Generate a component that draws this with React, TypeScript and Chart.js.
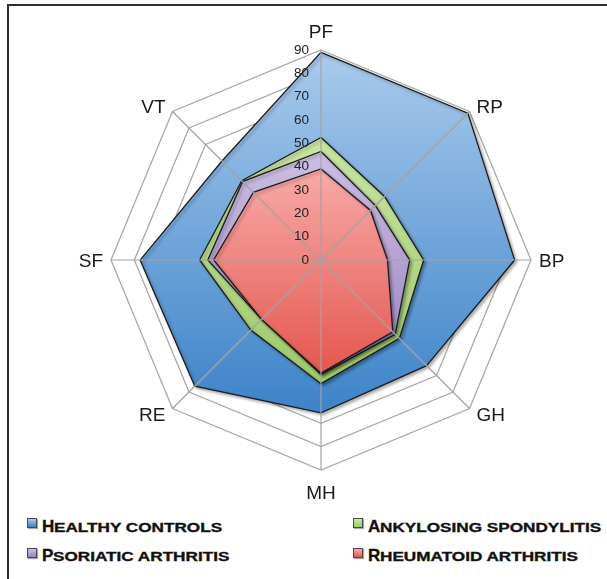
import React, { useEffect, useRef } from 'react';
import { Chart, registerables } from 'chart.js';

Chart.register(...registerables);

const axisLabels = ['PF', 'RP', 'BP', 'GH', 'MH', 'RE', 'SF', 'VT'];
const tickValues = [0, 10, 20, 30, 40, 50, 60, 70, 80, 90];
const healthyControls = [89, 89, 83, 64, 65.5, 76.5, 77.5, 60];
const ankylosingSpondylitis = [52.5, 38.5, 44, 47.5, 53, 42.5, 52, 48];
const psoriaticArthritis = [46.5, 33, 38, 45, 49, 36, 48.5, 47.5];
const rheumatoidArthritis = [39, 30, 28.5, 43.5, 48.5, 36, 46, 41];
const seriesNames = ['Healthy controls', 'Ankylosing spondylitis', 'Psoriatic arthritis', 'Rheumatoid arthritis'];

const FONT = '"Liberation Sans", Arial, sans-serif';

const palette = [
  { top: '#a9caec', bottom: '#3d83c9' },
  { top: '#c9e4a4', bottom: '#9dca66' },
  { top: '#cdbfe2', bottom: '#9882c5' },
  { top: '#f8aaa8', bottom: '#e4574f' },
];

function makeFill(chart: any, values: number[], top: string, bottom: string) {
  const scale = chart.scales && chart.scales.r;
  if (!scale || !chart.chartArea || !isFinite(scale.xCenter)) return top;
  let minY = Infinity;
  let maxY = -Infinity;
  values.forEach((v, i) => {
    const p = scale.getPointPositionForValue(i, v);
    minY = Math.min(minY, p.y);
    maxY = Math.max(maxY, p.y);
  });
  if (!isFinite(minY) || !isFinite(maxY) || maxY - minY < 1) return top;
  const g = chart.ctx.createLinearGradient(0, minY, 0, maxY);
  g.addColorStop(0, top);
  g.addColorStop(1, bottom);
  return g;
}

const overlayPlugin = {
  id: 'overlay',
  beforeDatasetsDraw(chart: any) {
    const ctx = chart.ctx;
    ctx.save();
    ctx.shadowColor = 'rgba(0,0,0,0.3)';
    ctx.shadowOffsetX = 2;
    ctx.shadowOffsetY = 2;
    ctx.shadowBlur = 3;
  },
  afterDatasetsDraw(chart: any) {
    const ctx = chart.ctx;
    ctx.restore();
    const s = chart.scales.r;
    ctx.save();
    ctx.strokeStyle = '#a3a3a3';
    ctx.lineWidth = 1.2;
    axisLabels.forEach((_, i) => {
      const p = s.getPointPosition(i, s.drawingArea);
      ctx.beginPath();
      ctx.moveTo(s.xCenter, s.yCenter);
      ctx.lineTo(p.x, p.y);
      ctx.stroke();
    });
    ctx.font = `13.5px ${FONT}`;
    ctx.fillStyle = '#222';
    ctx.textAlign = 'right';
    ctx.textBaseline = 'middle';
    tickValues.forEach((v) => {
      const d = s.getDistanceFromCenterForValue(v);
      ctx.fillText(String(v), s.xCenter - 12, s.yCenter - d);
    });
    ctx.font = `19px ${FONT}`;
    ctx.fillStyle = '#1a1a1a';
    ctx.textBaseline = 'alphabetic';
    axisLabels.forEach((lab, i) => {
      const p = s.getPointPosition(i, s.drawingArea);
      const dx = p.x - s.xCenter;
      const dy = p.y - s.yCenter;
      let align: CanvasTextAlign = 'center';
      let x = p.x;
      let y = p.y;
      if (Math.abs(dx) < 1) {
        y = dy < 0 ? p.y - 12 : p.y + 29;
      } else if (Math.abs(dy) < 1) {
        align = dx > 0 ? 'left' : 'right';
        x = p.x + (dx > 0 ? 8 : -8);
        y = p.y + 7;
      } else {
        align = dx > 0 ? 'left' : 'right';
        x = p.x + (dx > 0 ? 7 : -7);
        y = dy < 0 ? p.y + 1.5 : p.y + 13;
      }
      ctx.textAlign = align;
      ctx.fillText(lab, x, y);
    });
    ctx.restore();
  },
};

function RadarChart() {
  const ref = useRef<HTMLCanvasElement | null>(null);
  useEffect(() => {
    if (!ref.current) return;
    const seriesValues = [healthyControls, ankylosingSpondylitis, psoriaticArthritis, rheumatoidArthritis];
    const chart = new Chart(ref.current, {
      type: 'radar',
      data: {
        labels: axisLabels,
        datasets: seriesValues.map((vals, idx) => ({
          label: seriesNames[idx],
          data: vals,
          order: 4 - idx,
          fill: true,
          backgroundColor: (c: any) => makeFill(c.chart, vals, palette[idx].top, palette[idx].bottom),
          borderColor: '#1c1c1c',
          borderWidth: 1.3,
          pointRadius: 0,
          pointHoverRadius: 0,
          tension: 0,
        })),
      },
      options: {
        animation: false,
        responsive: false,
        devicePixelRatio: 1,
        events: [],
        layout: { padding: { left: 111, right: 76, top: 50, bottom: 30 } },
        plugins: {
          legend: { display: false },
          tooltip: { enabled: false },
        },
        scales: {
          r: {
            min: 0,
            max: 90,
            ticks: { display: false, stepSize: 10 },
            pointLabels: { display: false },
            angleLines: { display: false },
            grid: { color: '#a8a8a8', lineWidth: 1.3, circular: false },
          },
        },
      },
      plugins: [overlayPlugin],
    } as any);
    return () => chart.destroy();
  }, []);
  return (
    <canvas
      ref={ref}
      width={607}
      height={500}
      style={{ position: 'absolute', left: 0, top: 0, width: 607, height: 500 }}
    />
  );
}

const legendPos = [
  { x: 27, row: 0 },
  { x: 353, row: 0 },
  { x: 27, row: 1 },
  { x: 353, row: 1 },
];

function LegendItem({ idx }: { idx: number }) {
  const name = seriesNames[idx];
  const pos = legendPos[idx];
  const boxTop = pos.row === 0 ? 518 : 548;
  const textTop = pos.row === 0 ? 518.3 : 546.6;
  return (
    <>
      <div
        style={{
          position: 'absolute',
          left: pos.x,
          top: boxTop,
          width: 10,
          height: 10,
          boxSizing: 'border-box',
          border: '1px solid #4a4a4a',
          background: `linear-gradient(${palette[idx].top}, ${palette[idx].bottom})`,
          boxShadow: '1px 1px 1px rgba(0,0,0,0.35)',
        }}
      />
      <div
        style={{
          position: 'absolute',
          left: pos.x + 15,
          top: textTop,
          whiteSpace: 'nowrap',
          fontFamily: FONT,
          fontWeight: 'bold',
          fontSize: 17,
          lineHeight: '17px',
          color: '#111',
          WebkitTextStroke: '0.35px #111',
        }}
      >
        <span>{name.charAt(0).toUpperCase()}</span>
        <span
          style={{
            display: 'inline-block',
            fontSize: 13,
            textTransform: 'uppercase',
            transform: 'scaleX(1.32)',
            transformOrigin: 'left bottom',
          }}
        >
          {name.slice(1)}
        </span>
      </div>
    </>
  );
}

export default function App() {
  return (
    <div
      style={{
        position: 'fixed',
        left: 0,
        top: 0,
        width: 607,
        height: 579,
        background: '#fff',
        overflow: 'hidden',
      }}
    >
      <div
        style={{
          position: 'absolute',
          left: 7,
          top: 4,
          width: 640,
          height: 640,
          boxSizing: 'border-box',
          borderTop: '2px solid #2e2e2e',
          borderLeft: '2px solid #2e2e2e',
        }}
      />
      <RadarChart />
      {seriesNames.map((_, i) => (
        <LegendItem key={i} idx={i} />
      ))}
    </div>
  );
}
